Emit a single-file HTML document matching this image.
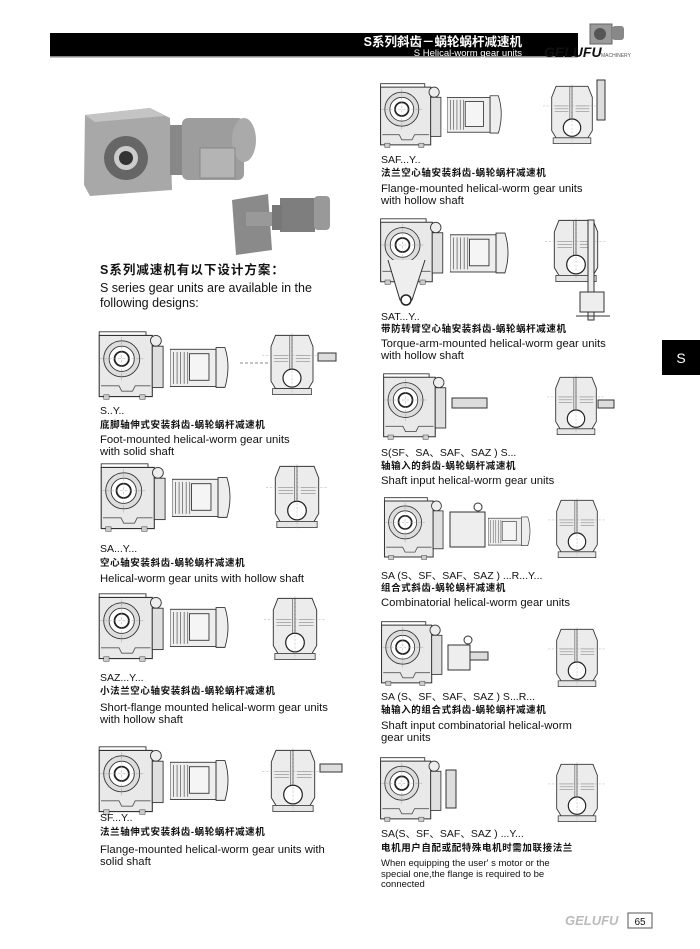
<!DOCTYPE html>
<html><head><meta charset="utf-8">
<style>
body{margin:0;background:#fff;}
#p{position:relative;width:700px;height:949px;overflow:hidden;font-family:"Liberation Sans","Noto Sans CJK SC",sans-serif;color:#111;}
.t{position:absolute;white-space:nowrap;line-height:1;}
.m{font-size:10.5px;}
.c{font-size:9.5px;font-weight:bold;letter-spacing:0.6px;}
.e{font-size:11.3px;}
svg{position:absolute;left:0;top:0;}
</style></head><body><div id="p">
<svg width="700" height="949" viewBox="0 0 700 949">
<defs>
<symbol id="gb" viewBox="0 0 80 80">
<path d="M3 6 H62 V74 H3 Z" fill="#e9e9e9" stroke="#333" stroke-width="1.2"/>
<path d="M3 6 V2 H55 V6" fill="none" stroke="#333"/>
<path d="M5 62 H25 L28 68 H40 L43 62 H60" fill="none" stroke="#555"/>
<rect x="8" y="72" width="6" height="5" fill="#ccc" stroke="#444" stroke-width=".6"/>
<rect x="48" y="72" width="6" height="5" fill="#ccc" stroke="#444" stroke-width=".6"/>
<circle cx="28" cy="32" r="20" fill="#ddd" stroke="#333"/>
<circle cx="28" cy="32" r="14" fill="#fff" stroke="#333"/>
<circle cx="28" cy="32" r="8" fill="#fff" stroke="#222" stroke-width="2"/>
<circle cx="66" cy="12" r="6" fill="#eee" stroke="#333"/>
<rect x="62" y="18" width="12" height="46" fill="#e0e0e0" stroke="#333"/>
<line x1="4" y1="32" x2="52" y2="32" stroke="#999" stroke-width=".5" stroke-dasharray="3 2"/>
<line x1="28" y1="8" x2="28" y2="56" stroke="#999" stroke-width=".5" stroke-dasharray="3 2"/>
</symbol>
<symbol id="mo" viewBox="0 0 70 50">
<rect x="0" y="5" width="52" height="42" fill="#eee" stroke="#333"/>
<g stroke="#555" stroke-width=".8"><line x1="4" y1="8" x2="4" y2="44"/><line x1="8" y1="8" x2="8" y2="44"/><line x1="12" y1="8" x2="12" y2="44"/><line x1="16" y1="8" x2="16" y2="44"/><line x1="20" y1="8" x2="20" y2="44"/></g>
<rect x="22" y="10" width="22" height="30" fill="#f5f5f5" stroke="#333"/>
<path d="M52 3 H62 Q69 25 62 48 H52 Z" fill="#eee" stroke="#333"/>
</symbol>
<symbol id="fr" viewBox="0 0 80 85">
<path d="M18 3 H62 L68 18 V64 L62 74 H18 L12 64 V18 Z" fill="#ececec" stroke="#333" stroke-width="1.2"/>
<rect x="14" y="74" width="52" height="8" fill="#e6e6e6" stroke="#333"/>
<line x1="40" y1="3" x2="40" y2="50" stroke="#333"/>
<line x1="37" y1="3" x2="37" y2="50" stroke="#666"/>
<g stroke="#777" stroke-width=".7"><line x1="16" y1="30" x2="35" y2="30"/><line x1="16" y1="34" x2="35" y2="34"/><line x1="16" y1="38" x2="35" y2="38"/><line x1="45" y1="30" x2="64" y2="30"/><line x1="45" y1="34" x2="64" y2="34"/><line x1="45" y1="38" x2="64" y2="38"/></g>
<circle cx="40" cy="60" r="12" fill="#fff" stroke="#222" stroke-width="1.6"/>
<line x1="0" y1="30" x2="80" y2="30" stroke="#999" stroke-width=".5" stroke-dasharray="3 2"/>
<line x1="40" y1="0" x2="40" y2="85" stroke="#999" stroke-width=".5" stroke-dasharray="3 2"/>
</symbol>
</defs>

<!-- header -->
<rect x="50" y="33" width="528" height="24" fill="#000"/>
<rect x="50" y="56" width="528" height="1.5" fill="#888"/>
<text x="522" y="46" fill="#fff" font-size="12.5" font-weight="bold" text-anchor="end" font-family="Liberation Sans,Noto Sans CJK SC,sans-serif">S系列斜齿－蜗轮蜗杆减速机</text>
<text x="522" y="56" fill="#fff" font-size="9.5" text-anchor="end" font-family="Liberation Sans,sans-serif">S Helical-worm gear units</text>
<rect x="590" y="24" width="22" height="20" fill="#999" stroke="#666"/><circle cx="600" cy="34" r="6" fill="#555"/>
<rect x="612" y="26" width="12" height="14" rx="3" fill="#888"/>
<text x="544" y="57" font-size="14" font-weight="bold" font-style="italic" fill="#111" font-family="Liberation Sans,sans-serif">GELUFU</text>
<text x="601" y="57" font-size="5" fill="#555" font-family="Liberation Sans,sans-serif">MACHINERY</text>

<!-- S tab -->
<rect x="662" y="340" width="38" height="35" fill="#000"/>
<text x="681" y="363" fill="#fff" font-size="14" text-anchor="middle" font-family="Liberation Sans,sans-serif">S</text>

<!-- photo -->
<g>
<path d="M85 115 L150 108 L170 118 L172 190 L90 196 L84 185 Z" fill="#a8a8a8"/>
<path d="M85 115 L150 108 L165 116 L95 122 Z" fill="#c4c4c4"/>
<circle cx="126" cy="158" r="22" fill="#666"/><circle cx="126" cy="158" r="12" fill="#ccc"/><circle cx="126" cy="158" r="7" fill="#333"/>
<rect x="170" y="125" width="12" height="50" fill="#888"/>
<rect x="182" y="118" width="62" height="62" rx="6" fill="#9d9d9d"/>
<ellipse cx="244" cy="140" rx="12" ry="22" fill="#aaa"/>
<rect x="200" y="148" width="35" height="30" fill="#b4b4b4" stroke="#888"/>
<path d="M232 200 L268 194 L272 250 L236 255 Z" fill="#8a8a8a"/>
<rect x="246" y="212" width="26" height="14" fill="#999"/>
<rect x="280" y="198" width="35" height="34" fill="#7e7e7e"/>
<rect x="314" y="196" width="16" height="34" rx="4" fill="#999"/>
<rect x="272" y="205" width="10" height="25" fill="#777"/>
</g>

<!-- left diagrams -->
<use href="#gb" x="95" y="330" width="75" height="72"/>
<use href="#mo" x="170" y="343" width="62" height="48"/>
<line x1="240" y1="363" x2="270" y2="363" stroke="#888" stroke-dasharray="3 2"/>
<use href="#fr" x="262" y="330" width="60" height="70"/>
<rect x="318" y="353" width="18" height="8" fill="#ddd" stroke="#333"/>

<use href="#gb" x="97" y="462" width="75" height="72"/>
<use href="#mo" x="172" y="472" width="62" height="50"/>
<use href="#fr" x="266" y="462" width="62" height="70"/>

<use href="#gb" x="95" y="592" width="75" height="72"/>
<use href="#mo" x="170" y="602" width="62" height="50"/>
<use href="#fr" x="264" y="594" width="62" height="70"/>

<use href="#gb" x="95" y="745" width="75" height="72"/>
<use href="#mo" x="170" y="755" width="62" height="50"/>
<use href="#fr" x="262" y="746" width="62" height="70"/>
<rect x="320" y="764" width="22" height="8" fill="#ddd" stroke="#333"/>

<!-- right diagrams -->
<use href="#gb" x="377" y="82" width="70" height="68"/>
<use href="#mo" x="447" y="92" width="58" height="44"/>
<use href="#fr" x="543" y="80" width="58" height="70"/>
<rect x="597" y="80" width="8" height="40" fill="#ddd" stroke="#333"/>

<use href="#gb" x="377" y="217" width="72" height="70"/>
<path d="M388 260 L400 300 L412 300 L425 260" fill="#eee" stroke="#333"/>
<circle cx="406" cy="300" r="5" fill="#fff" stroke="#222" stroke-width="1.5"/>
<use href="#mo" x="450" y="230" width="62" height="45"/>
<use href="#fr" x="545" y="215" width="62" height="72"/>
<rect x="588" y="220" width="6" height="100" fill="#eee" stroke="#333"/>
<rect x="580" y="292" width="24" height="20" fill="#eee" stroke="#333"/>
<line x1="576" y1="316" x2="610" y2="316" stroke="#333"/>

<use href="#gb" x="380" y="372" width="72" height="70"/>
<rect x="452" y="398" width="35" height="10" fill="#ddd" stroke="#333"/>
<use href="#fr" x="547" y="370" width="58" height="72"/>
<rect x="598" y="400" width="16" height="8" fill="#ddd" stroke="#333"/>

<use href="#gb" x="380" y="496" width="70" height="66"/>
<rect x="450" y="512" width="35" height="35" fill="#eee" stroke="#333"/>
<circle cx="478" cy="507" r="4" fill="#fff" stroke="#333"/>
<use href="#mo" x="488" y="515" width="45" height="32"/>
<use href="#fr" x="548" y="495" width="58" height="68"/>

<use href="#gb" x="378" y="620" width="70" height="68"/>
<rect x="448" y="645" width="22" height="25" fill="#eee" stroke="#333"/>
<circle cx="468" cy="640" r="4" fill="#fff" stroke="#333"/>
<rect x="470" y="652" width="18" height="8" fill="#ddd" stroke="#333"/>
<use href="#fr" x="548" y="625" width="58" height="66"/>

<use href="#gb" x="378" y="755" width="68" height="70"/>
<rect x="446" y="770" width="10" height="38" fill="#ddd" stroke="#333"/>
<use href="#fr" x="548" y="760" width="58" height="66"/>

<!-- footer -->
<text x="565" y="925" font-size="13" font-weight="bold" font-style="italic" fill="#bbb" font-family="Liberation Sans,sans-serif">GELUFU</text>
<rect x="628" y="913" width="24" height="15" fill="#fff" stroke="#555"/>
<text x="640" y="925" font-size="10" text-anchor="middle" fill="#111" font-family="Liberation Sans,sans-serif">65</text>
</svg>

<div class="t" style="left:100px;top:264px;font-size:12.5px;font-weight:bold;letter-spacing:1px;">S系列减速机有以下设计方案：</div>
<div class="t" style="left:100px;top:281px;font-size:12.5px;line-height:15px;">S series gear units are available in the<br>following designs:</div>

<div class="t m" style="left:100px;top:406px;">S..Y..</div>
<div class="t c" style="left:100px;top:421px;">底脚轴伸式安装斜齿-蜗轮蜗杆减速机</div>
<div class="t e" style="left:100px;top:434px;line-height:12px;">Foot-mounted helical-worm gear units<br>with solid shaft</div>

<div class="t m" style="left:100px;top:544px;">SA...Y...</div>
<div class="t c" style="left:100px;top:559px;">空心轴安装斜齿-蜗轮蜗杆减速机</div>
<div class="t e" style="left:100px;top:574px;">Helical-worm gear units with hollow shaft</div>

<div class="t m" style="left:100px;top:673px;">SAZ...Y...</div>
<div class="t c" style="left:100px;top:687px;">小法兰空心轴安装斜齿-蜗轮蜗杆减速机</div>
<div class="t e" style="left:100px;top:702px;line-height:12px;">Short-flange mounted helical-worm gear units<br>with hollow shaft</div>

<div class="t m" style="left:100px;top:813px;">SF...Y..</div>
<div class="t c" style="left:100px;top:828px;">法兰轴伸式安装斜齿-蜗轮蜗杆减速机</div>
<div class="t e" style="left:100px;top:844px;line-height:12px;">Flange-mounted helical-worm gear units with<br>solid shaft</div>

<div class="t m" style="left:381px;top:155px;">SAF...Y..</div>
<div class="t c" style="left:381px;top:169px;">法兰空心轴安装斜齿-蜗轮蜗杆减速机</div>
<div class="t e" style="left:381px;top:183px;line-height:12px;">Flange-mounted helical-worm gear units<br>with hollow shaft</div>

<div class="t m" style="left:381px;top:312px;">SAT...Y..</div>
<div class="t c" style="left:381px;top:325px;">带防转臂空心轴安装斜齿-蜗轮蜗杆减速机</div>
<div class="t e" style="left:381px;top:338px;line-height:12px;">Torque-arm-mounted helical-worm gear units<br>with hollow shaft</div>

<div class="t m" style="left:381px;top:448px;">S(SF、SA、SAF、SAZ ) S...</div>
<div class="t c" style="left:381px;top:462px;">轴输入的斜齿-蜗轮蜗杆减速机</div>
<div class="t e" style="left:381px;top:476px;">Shaft input helical-worm gear units</div>

<div class="t m" style="left:381px;top:571px;">SA (S、SF、SAF、SAZ ) ...R...Y...</div>
<div class="t c" style="left:381px;top:584px;">组合式斜齿-蜗轮蜗杆减速机</div>
<div class="t e" style="left:381px;top:598px;">Combinatorial helical-worm gear units</div>

<div class="t m" style="left:381px;top:692px;">SA (S、SF、SAF、SAZ ) S...R...</div>
<div class="t c" style="left:381px;top:706px;">轴输入的组合式斜齿-蜗轮蜗杆减速机</div>
<div class="t e" style="left:381px;top:720px;line-height:12px;">Shaft input combinatorial helical-worm<br>gear units</div>

<div class="t m" style="left:381px;top:829px;">SA(S、SF、SAF、SAZ ) ...Y...</div>
<div class="t c" style="left:381px;top:844px;">电机用户自配或配特殊电机时需加联接法兰</div>
<div class="t" style="left:381px;top:859px;font-size:9.5px;line-height:10.5px;">When equipping the user' s motor or the<br>special one,the flange is required to be<br>connected</div>
</div></body></html>
